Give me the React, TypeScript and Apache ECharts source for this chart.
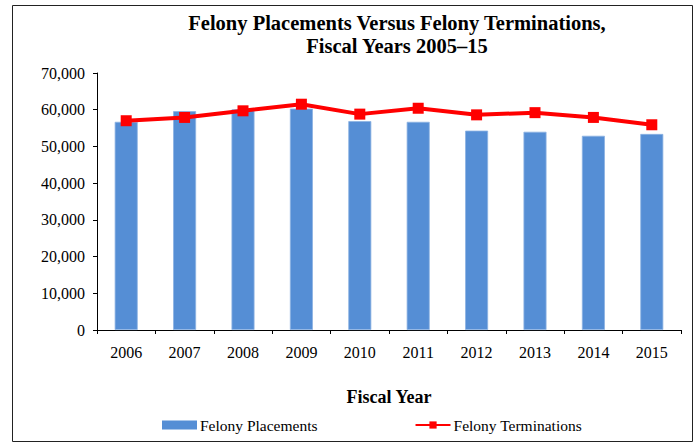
import React, { useEffect, useRef } from "react";
import * as echarts from "echarts";

const categories = ["2006", "2007", "2008", "2009", "2010", "2011", "2012", "2013", "2014", "2015"];
const placements = [56700, 59600, 60100, 60300, 56900, 56700, 54300, 54000, 52900, 53400];
const terminations = [57000, 57900, 59700, 61500, 58800, 60400, 58600, 59200, 57900, 55900];

const FONT = "'Liberation Serif', 'Times New Roman', serif";

export default function App() {
  const ref = useRef<HTMLDivElement>(null);
  useEffect(() => {
    if (!ref.current) return;
    const chart = echarts.init(ref.current, null, { renderer: "svg" });
    chart.setOption({
      animation: false,
      backgroundColor: "#fff",
      textStyle: { fontFamily: FONT },
      graphic: [
        {
          type: "rect",
          shape: { x: 12.5, y: 5.5, width: 680, height: 436 },
          style: { fill: "none", stroke: "#222", lineWidth: 1 },
          silent: true,
        },
      ],
      title: {
        text: "Felony Placements Versus Felony Terminations,\nFiscal Years 2005–15",
        left: 397,
        textAlign: "center",
        top: 11,
        padding: 0,
        textStyle: {
          fontFamily: FONT,
          fontWeight: "bold",
          fontSize: 20.5,
          lineHeight: 23,
          color: "#000",
        },
      },
      legend: {
        top: 417,
        left: 162,
        padding: 0,
        itemGap: 97,
        itemWidth: 35,
        itemHeight: 9,
        textStyle: { fontFamily: FONT, fontSize: 15.5, color: "#000", padding: [0, 0, 0, -2] },
        data: [
          { name: "Felony Placements", icon: "rect", itemStyle: { borderWidth: 0 } },
          { name: "Felony Terminations" },
        ],
      },
      grid: { left: 97, right: 16, top: 73, bottom: 113, containLabel: false },
      xAxis: {
        type: "category",
        data: categories,
        name: "Fiscal Year",
        nameLocation: "middle",
        nameGap: 58,
        nameTextStyle: { fontFamily: FONT, fontWeight: "bold", fontSize: 18, color: "#000" },
        axisLine: { lineStyle: { color: "#000", width: 1 } },
        axisTick: { show: true, length: 4, lineStyle: { color: "#000" } },
        axisLabel: { fontFamily: FONT, fontSize: 16, color: "#000", margin: 14 },
      },
      yAxis: {
        type: "value",
        min: 0,
        max: 70000,
        interval: 10000,
        axisLine: { show: true, lineStyle: { color: "#000", width: 1 } },
        axisTick: { show: true, length: 4, lineStyle: { color: "#000" } },
        splitLine: { show: false },
        axisLabel: {
          fontFamily: FONT,
          fontSize: 16,
          color: "#000",
          margin: 12,
          formatter: (v: number) => v.toLocaleString("en-US"),
        },
      },
      series: [
        {
          name: "Felony Placements",
          type: "bar",
          data: placements,
          barWidth: 23,
          itemStyle: { color: "#558ED5", borderColor: "#8DB3E2", borderWidth: 0.8 },
        },
        {
          name: "Felony Terminations",
          type: "line",
          data: terminations,
          symbol: "rect",
          symbolSize: 11,
          lineStyle: { color: "#FF0000", width: 4 },
          itemStyle: { color: "#FF0000" },
        },
      ],
    });
    return () => chart.dispose();
  }, []);
  return <div ref={ref} style={{ width: 697, height: 443, position: "absolute", left: 0, top: 0 }} />;
}
